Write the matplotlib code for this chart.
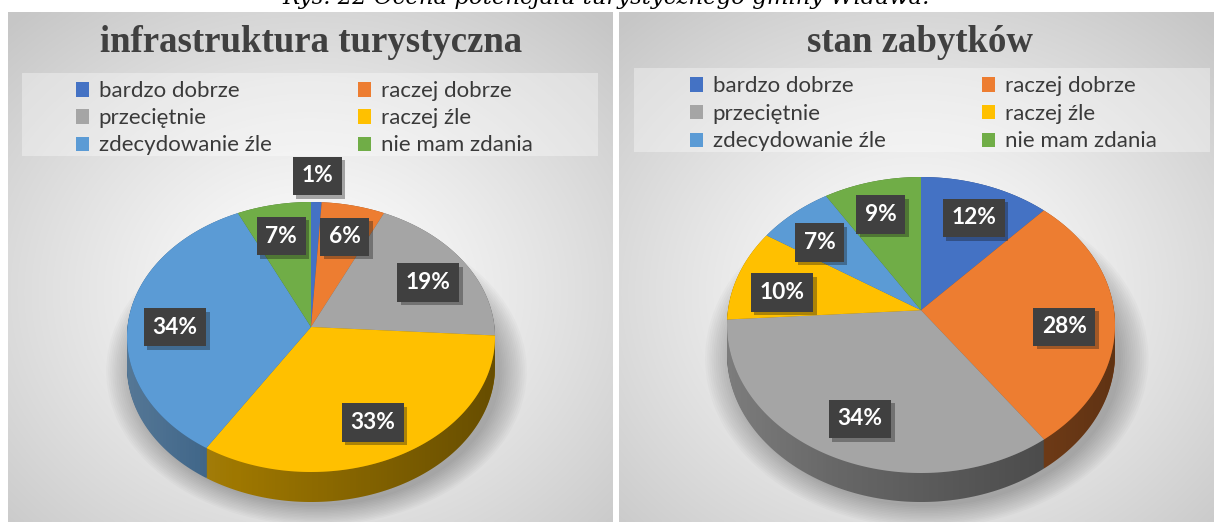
import numpy as np
import matplotlib
matplotlib.use("Agg")
import matplotlib.pyplot as plt
import matplotlib.patheffects as pe
from matplotlib.patches import Rectangle, Ellipse, Polygon
from matplotlib.legend import Legend
from matplotlib.colors import to_rgb

W, H = 1214, 522

categories = ["bardzo dobrze", "raczej dobrze", "przeciętnie",
              "raczej źle", "zdecydowanie źle", "nie mam zdania"]
colors = ["#4472C4", "#ED7D31", "#A5A5A5", "#FFC000", "#5B9BD5", "#70AD47"]
infra_values = [1, 6, 19, 33, 34, 7]
zabytki_values = [12, 28, 34, 10, 7, 9]
chart_titles = ["infrastruktura turystyczna", "stan zabytków"]
caption = "Rys. 22 Ocena potencjału turystycznego gminy Widawa."

fig = plt.figure(figsize=(W / 100, H / 100), dpi=100)
bg = fig.add_axes([0, 0, 1, 1], zorder=0)
bg.axis('off')
renderer = fig.canvas.get_renderer()


def fit_size(text, width_px, **kw):
    t = fig.text(0, 0, text, fontsize=20, **kw)
    w = t.get_window_extent(renderer).width
    t.remove()
    return 20 * width_px / w


def panel(x0, x1, y0, y1, cxf=0.5, cyf=0.55):
    nx, ny = 300, 260
    xx, yy = np.meshgrid(np.linspace(0, 1, nx), np.linspace(0, 1, ny))
    r = np.sqrt(((xx - cxf) / 0.72) ** 2 + ((yy - cyf) / 0.72) ** 2)
    r = np.clip(r, 0, 1)
    g = 1.0 - 0.22 * r ** 1.2
    img = np.dstack([g, g, g])
    bg.imshow(img, extent=(x0, x1, y1, y0), origin='upper',
              interpolation='bilinear', aspect='auto', zorder=0)


panel(8, 613, 12, 522)
panel(619, 1214, 12, 522)
bg.add_patch(Rectangle((22, 73), 576, 83, facecolor='white', alpha=0.35, lw=0, zorder=1))
bg.add_patch(Rectangle((634, 68), 576, 84, facecolor='white', alpha=0.35, lw=0, zorder=1))
bg.set_xlim(0, W)
bg.set_ylim(H, 0)

cap_fs = fit_size(caption, 647, family='DejaVu Serif', style='italic')
bg.text(606, 4, caption, ha='center', va='baseline', fontsize=cap_fs,
        family='DejaVu Serif', style='italic', color='black', zorder=3)

title_fs = fit_size(chart_titles[0], 422, family='Liberation Serif', fontweight='bold')
for tx, title in zip([311, 920], chart_titles):
    bg.text(tx, 52, title, ha='center', va='baseline', fontsize=title_fs,
            family='Liberation Serif', fontweight='bold', color='#404040', zorder=3)

leg_fs = fit_size("bardzo dobrze", 140, family='Lato')
lab_fs = fit_size("33%", 45, family='Lato', fontweight='bold')
leg_px = leg_fs * 100 / 72


def unit_circle(ax, y0):
    th = np.linspace(0, 2 * np.pi, 361)
    p = Polygon(np.c_[np.cos(th), y0 + np.sin(th)], closed=True,
                transform=ax.transData, facecolor='none', edgecolor='none',
                zorder=0)
    ax.add_patch(p)
    return p


def draw_pie(values, cx, cy, a, b, depth, apex, leg_xs, leg_row1, row_step):
    m = 1.4
    ax = fig.add_axes([(cx - m * a) / W, (H - cy - m * b) / H,
                       2 * m * a / W, 2 * m * b / H], zorder=1)
    D = depth / b
    R = 1 + apex + 0.03
    dark = [tuple(0.62 * c for c in to_rgb(col)) for col in colors]
    # soft shadow
    for k in range(14):
        s = 1.0 + 0.011 * k
        ax.add_patch(Ellipse((0.03, -D - 0.03), 2 * s, 2 * s, facecolor='k',
                             alpha=0.02, lw=0, zorder=0.5))
    # extruded side
    for t in np.linspace(D, 0, int(depth) + 1):
        ws, _ = ax.pie(values, colors=dark, startangle=90, counterclock=False,
                       center=(0, apex - t), radius=R,
                       wedgeprops=dict(linewidth=0, zorder=1))
        cp = unit_circle(ax, -t)
        for w in ws:
            w.set_clip_on(True)
            w.set_clip_path(cp)
    th = np.linspace(np.pi, 2 * np.pi, 200)
    verts = np.concatenate([np.c_[np.cos(th), np.sin(th)],
                            np.c_[np.cos(th[::-1]), np.sin(th[::-1]) - D]])
    clip = Polygon(verts, closed=True, transform=ax.transData,
                   facecolor='none', edgecolor='none')
    ax.add_patch(clip)
    grad = np.linspace(0, 1, 256)
    shade = np.zeros((1, 256, 4))
    shade[0, :, :3] = np.where(grad[:, None] < 0.3, 1.0, 0.0)
    shade[0, :, 3] = np.abs(-0.15 + 0.5 * grad)
    im = ax.imshow(shade, extent=(-1, 1, -1 - D, 0), aspect='auto',
                   zorder=1.5, interpolation='bilinear')
    im.set_clip_path(clip)
    wedges, _ = ax.pie(values, colors=colors, startangle=90, counterclock=False,
                       center=(0, apex), radius=R,
                       wedgeprops=dict(linewidth=0, zorder=2))
    cp = unit_circle(ax, 0)
    for w in wedges:
        w.set_clip_on(True)
        w.set_clip_path(cp)
    for w, v in zip(wedges, values):
        ang = np.deg2rad((w.theta1 + w.theta2) / 2)
        if v < 3:
            r, oy = 1.12, apex
        else:
            r, oy = 0.74, 0.35 * apex
        t = ax.text(r * np.cos(ang), oy + r * np.sin(ang), f"{v}%", ha='center',
                    va='center', color='white', fontweight='bold', family='Lato',
                    fontsize=lab_fs, zorder=5,
                    bbox=dict(boxstyle='square,pad=0.38', facecolor='#404040',
                              edgecolor='none', lw=0))
        t.get_bbox_patch().set_path_effects(
            [pe.SimplePatchShadow(offset=(2.5, -2.5), alpha=0.35), pe.Normal()])
    for col in range(2):
        idx = [col, col + 2, col + 4]
        leg = Legend(ax, [wedges[i] for i in idx], [categories[i] for i in idx],
                     loc='upper left',
                     bbox_to_anchor=(leg_xs[col], leg_row1 - 0.3 * leg_px),
                     bbox_transform=bg.transData, frameon=False,
                     prop={'family': 'Lato', 'size': leg_fs},
                     handlelength=0.6, handleheight=0.6, handletextpad=0.42,
                     labelspacing=(row_step - 0.875 * leg_px) / leg_px,
                     borderpad=0, borderaxespad=0)
        for txt in leg.get_texts():
            txt.set_color('#3a3a3a')
        ax.add_artist(leg)
    ax.set_aspect('auto')
    ax.set_xlim(-m, m)
    ax.set_ylim(-m, m)
    ax.axis('off')
    return ax


draw_pie(infra_values, 311, 337, 184, 135, 30, 0.074, (76, 358), 88, 26.5)
draw_pie(zabytki_values, 921, 325, 194, 148, 29, 0.10, (690, 982), 83, 27)

fig.savefig("out.png", dpi=100)
